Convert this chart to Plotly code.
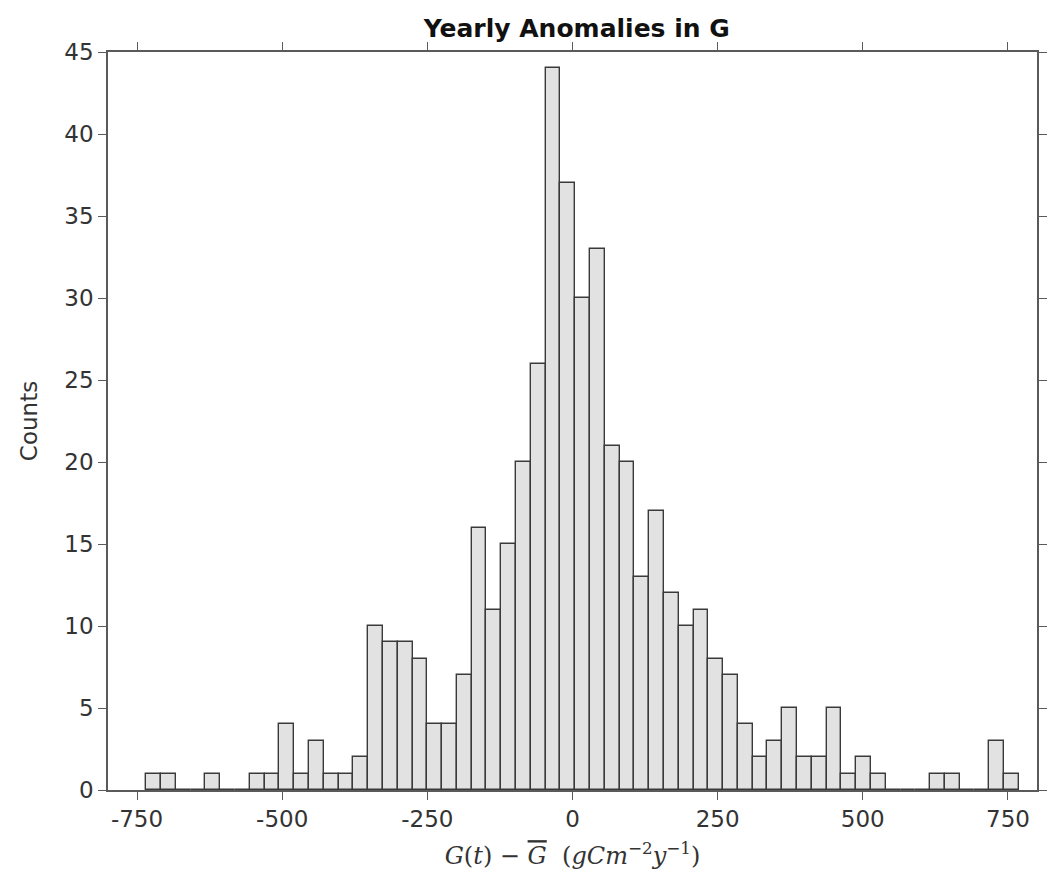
import plotly.graph_objects as go

# Histogram of yearly anomalies in G (59 equal-width bins)
bin_left = -734.0      # left edge of first bin (gC m^-2 y^-1)
bin_width = 25.47      # bin width
counts = [1, 1, 0, 0, 1, 0, 0, 1, 1, 4,
          1, 3, 1, 1, 2, 10, 9, 9, 8, 4,
          4, 7, 16, 11, 15, 20, 26, 44, 37, 30,
          33, 21, 20, 13, 17, 12, 10, 11, 8, 7,
          4, 2, 3, 5, 2, 2, 5, 1, 2, 1,
          0, 0, 0, 1, 1, 0, 0, 3, 1]
x_tickvals = [-750, -500, -250, 0, 250, 500, 750]
x_ticktext = ["-750", "-500", "-250", "0", "250", "500", "750"]
y_tickvals = [0, 5, 10, 15, 20, 25, 30, 35, 40, 45]

centers = [bin_left + (i + 0.5) * bin_width for i in range(len(counts))]

fig = go.Figure()
fig.add_trace(go.Bar(
    x=centers, y=counts, width=bin_width,
    marker=dict(color="#e2e2e2", line=dict(color="#3a3a3a", width=1.4)),
    showlegend=False,
))

axis_common = dict(
    showline=True, linecolor="#5a5a5a", linewidth=1.5, mirror="ticks",
    ticks="outside", ticklen=8, tickwidth=1.2, tickcolor="#5a5a5a",
    showgrid=False, zeroline=False,
    tickfont=dict(family="DejaVu Sans", size=23, color="#333333"),
)

fig.update_layout(
    width=1055, height=890,
    margin=dict(l=108, r=8, t=52, b=100),
    paper_bgcolor="white", plot_bgcolor="white",
    bargap=0,
    title=dict(text="<b>Yearly Anomalies in G</b>", x=0.5467, xanchor="center",
               y=0.968, yanchor="middle", yref="container",
               font=dict(family="DejaVu Sans", size=25, color="#111111")),
    xaxis=dict(range=[-800, 800], tickvals=x_tickvals, ticktext=x_ticktext,
               title=dict(text="<i>G</i>(<i>t</i>) − <span style='text-decoration:overline'><i>G</i></span>"
                               "  (<i>gCm</i><sup>−2</sup><i>y</i><sup>−1</sup>)",
                          font=dict(family="DejaVu Serif", size=24, color="#333333"),
                          standoff=16),
               **axis_common),
    yaxis=dict(range=[0, 45], tickvals=y_tickvals,
               title=dict(text="Counts", font=dict(family="DejaVu Sans", size=23, color="#333333"),
                          standoff=20),
               **axis_common),
)

fig.write_html("out.html")
